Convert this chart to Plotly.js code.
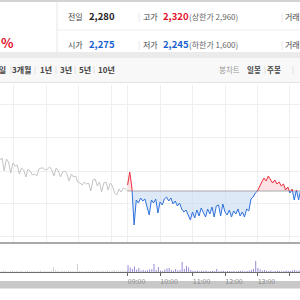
<!DOCTYPE html>
<html><head><meta charset="utf-8">
<script src="https://cdn.plot.ly/plotly-3.0.1.min.js"></script>
<style>html,body{margin:0;padding:0;background:#fff;overflow:hidden}#chart{width:300px;height:300px}</style>
</head><body><div id="chart"></div>
<script>
// ---- data ----
const prevClose = 2280;
const prevStartMinute = 154;   // minutes after previous session 09:00
const todayStartMinute = 390;  // today's 09:00 on the continuous trading-time axis
const stepMinutes = 4;
const prevPrices = [2342,2346,2320,2344,2338,2316,2336,2330,2332,2314,2326,2322,2308,2324,2320,2312,2314,2310,2324,2326,
  2326,2322,2324,2328,2322,2310,2326,2320,2308,2318,2320,2314,2300,2314,2308,2310,2298,2296,2292,2298,
  2294,2296,2280,2302,2304,2290,2298,2278,2296,2298,2282,2296,2290,2276,2272,2284,2278,2286,2284,2280];
const prevVolumes = [12,8,15,10,6,9,14,7,10,8,12,6,9,11,7,10,8,6,9,12,8,10,7,9,11,50,22,9,8,12,
  10,7,14,9,11,8,80,12,10,8,9,14,11,10,8,12,9,15,10,12,18,11,14,20,12,16,10,14,12,18];
const todayPrices = [2292,2318,2286,2212,2262,2256,2266,2260,2264,2248,2232,2262,2256,2264,2236,2258,2252,2264,2268,2260,
  2266,2254,2260,2250,2256,2244,2238,2242,2230,2222,2238,2226,2242,2230,2246,2236,2228,2244,2234,2248,
  2228,2250,2252,2230,2254,2238,2232,2242,2228,2240,2234,2244,2230,2238,2228,2244,2240,2264,2268,2276,
  2280,2290,2298,2306,2300,2310,2304,2296,2302,2294,2298,2290,2294,2282,2288,2276,2284,2262,2282,2262,2282];
const todayVolumes = [70,45,30,55,25,40,15,20,12,18,25,30,80,20,50,15,10,25,35,40,
  20,12,30,15,20,100,30,60,45,20,12,10,15,8,12,10,14,8,10,12,
  9,30,8,10,12,8,10,9,7,11,8,10,9,12,8,10,15,20,30,110,
  40,25,15,20,12,10,14,8,10,12,9,8,10,15,12,10,14,20,12,15,10];
const gridPrices = [2190, 2256, 2320, 2388, 2454];
const gridMinutes = [180, 240, 300, 360, 390, 450, 510, 570, 630, 690];
const timeTickMinutes = [390, 450, 510, 570, 630, 690];
const timeTickLabels = ['09:00', '10:00', '11:00', '12:00', '13:00', '14:00'];

// ---- build ----
const prevX = prevPrices.map((_, i) => prevStartMinute + i * stepMinutes);
const todayX = todayPrices.map((_, i) => todayStartMinute + i * stepMinutes);

// insert baseline crossings so that colours switch exactly at the previous close
const px = [], py = [];
for (let i = 0; i < todayPrices.length; i++) {
  px.push(todayX[i]); py.push(todayPrices[i]);
  if (i < todayPrices.length - 1) {
    const a = todayPrices[i] - prevClose, b = todayPrices[i + 1] - prevClose;
    if (a * b < 0) {
      const t = -a / (b - a);
      px.push(todayX[i] + t * (todayX[i + 1] - todayX[i])); py.push(prevClose);
    }
  }
}
const baseArr = px.map(() => prevClose);
const belowArr = py.map(v => Math.min(v, prevClose));
const aboveArr = py.map(v => Math.max(v, prevClose));
const blueArr = py.map(v => v <= prevClose ? v : null);
const redArr = py.map(v => v >= prevClose ? v : null);

const XR = [154.2, 708.6];
const FONT = '"Noto Sans CJK KR", "Noto Sans", sans-serif';

const traces = [
  {x: px, y: baseArr, type: 'scatter', mode: 'lines', line: {width: 0}, hoverinfo: 'skip'},
  {x: px, y: belowArr, type: 'scatter', mode: 'lines', line: {width: 0}, fill: 'tonexty', fillcolor: 'rgba(200,218,244,0.6)'},
  {x: px, y: baseArr, type: 'scatter', mode: 'lines', line: {width: 0}},
  {x: px, y: aboveArr, type: 'scatter', mode: 'lines', line: {width: 0}, fill: 'tonexty', fillcolor: 'rgba(250,205,212,0.6)'},
  {x: [todayX[0], todayX[todayX.length - 1]], y: [prevClose, prevClose], type: 'scatter', mode: 'lines', line: {color: '#a8a8a8', width: 1}},
  {x: prevX, y: prevPrices, type: 'scatter', mode: 'lines', line: {color: '#c4c4c4', width: 1}},
  {x: px, y: blueArr, type: 'scatter', mode: 'lines', line: {color: '#2f72dc', width: 1}, connectgaps: false},
  {x: px, y: redArr, type: 'scatter', mode: 'lines', line: {color: '#ef2d3c', width: 1}, connectgaps: false},
  {x: prevX, y: prevVolumes, type: 'bar', xaxis: 'x2', yaxis: 'y2', width: 1.6, marker: {color: '#c9c9c9', line: {width: 0}}},
  {x: todayX, y: todayVolumes, type: 'bar', xaxis: 'x2', yaxis: 'y2', width: 1.6, marker: {color: '#8c78cc', line: {width: 0}}}
];

function P(x) { return x / 300; }
function Q(y) { return 1 - y / 300; }
function T(text, x, y, size, color, bold, anchor) {
  return {text: bold ? '<b>' + text + '</b>' : text, x: P(x), y: Q(y), xref: 'paper', yref: 'paper',
    xanchor: anchor || 'left', yanchor: 'middle', showarrow: false, borderpad: 0,
    font: {family: FONT, size: size, color: color}};
}
function R(x0, y0, x1, y1, fill) {
  return {type: 'rect', xref: 'paper', yref: 'paper', x0: P(x0), x1: P(x1), y0: Q(y0), y1: Q(y1),
    fillcolor: fill, line: {width: 0}, layer: 'below'};
}
function L(x0, y0, x1, y1, color, w) {
  return {type: 'line', xref: 'paper', yref: 'paper', x0: P(x0), x1: P(x1), y0: Q(y0), y1: Q(y1),
    line: {color: color, width: w || 1}};
}

const shapes = [
  L(0, 1, 300, 1, '#c4c4c4', 1.5),
  L(57, 2, 57, 52, '#e6e6e6', 1),
  L(57, 30, 300, 30, '#eeeeee', 1),
  R(0, 52, 300, 58, '#ebebeb'),
  R(0, 58, 300, 82, '#f8f8f8'),
  L(0, 82.5, 300, 82.5, '#e2e2e2', 1),
  L(0, 243, 300, 243, '#8c8c8c', 1.3),
  R(0, 281, 300, 288.5, '#c8c8c8')
];

const LBL = 8, VAL = 9.5, SUB = 8, BTN = 8;
const annotations = [
  T('%', 0, 43, 13, '#e0102a', true),
  T('전일', 67, 16, LBL, '#444', false), T('2,280', 88, 16, VAL, '#222', true),
  T('|', 137, 16, 8, '#d8d8d8', false),
  T('고가', 142, 16, LBL, '#444', false), T('2,320', 162, 16, VAL, '#e0102a', true),
  T('(상한가 2,960)', 188, 16, SUB, '#666', false),
  T('|', 280, 16, 8, '#d8d8d8', false), T('거래량', 284, 16, LBL, '#444', false),
  T('시가', 67, 44, LBL, '#444', false), T('2,275', 88, 44, VAL, '#1a5fd0', true),
  T('|', 137, 44, 8, '#d8d8d8', false),
  T('저가', 142, 44, LBL, '#444', false), T('2,245', 162, 44, VAL, '#1a5fd0', true),
  T('(하한가 1,600)', 188, 44, SUB, '#666', false),
  T('|', 280, 44, 8, '#d8d8d8', false), T('거래대금', 284, 44, LBL, '#444', false),
  T('5일', 7, 69, BTN, '#444', true, 'right'),
  T('|', 8.5, 69, 7, '#cccccc', false),
  T('3개월', 11, 69, BTN, '#444', true), T('|', 33, 69, 7, '#cccccc', false),
  T('1년', 39, 69, BTN, '#444', true), T('|', 54, 69, 7, '#cccccc', false),
  T('3년', 59, 69, BTN, '#444', true), T('|', 73, 69, 7, '#cccccc', false),
  T('5년', 78, 69, BTN, '#444', true), T('|', 92, 69, 7, '#cccccc', false),
  T('10년', 97, 69, BTN, '#444', true),
  T('봉차트', 218, 69, 7.5, '#999', false),
  T('일봉', 246, 69, 7.5, '#444', true), T('|', 262.5, 69, 7, '#cccccc', false),
  T('주봉', 266, 69, 7.5, '#444', true), T('|', 291, 69, 7, '#cccccc', false)
];

const layout = {
  width: 300, height: 300, margin: {l: 0, r: 0, t: 0, b: 0},
  paper_bgcolor: '#ffffff', plot_bgcolor: '#ffffff', showlegend: false,
  xaxis: {domain: [0, 1], range: XR, tickvals: gridMinutes, showticklabels: false, ticks: '',
    showgrid: true, gridcolor: '#efefef', gridwidth: 1, zeroline: false, showline: false, anchor: 'y'},
  yaxis: {domain: [Q(243), Q(85)], range: [2176, 2492], tickvals: gridPrices, showticklabels: false, ticks: '',
    showgrid: true, gridcolor: '#efefef', gridwidth: 1, zeroline: false, showline: false},
  xaxis2: {domain: [0, 1], range: XR, anchor: 'y2', tickvals: timeTickMinutes, ticktext: timeTickLabels,
    ticks: 'outside', ticklen: 3, tickcolor: '#666', tickfont: {family: FONT, size: 7, color: '#888'},
    ticklabelshift: 9, ticklabelstandoff: 0,
    showgrid: false, zeroline: false, showline: true, linecolor: '#6e6e6e', linewidth: 1},
  yaxis2: {domain: [Q(272), Q(243)], range: [0, 290], showticklabels: false, ticks: '',
    showgrid: false, zeroline: false, showline: false},
  shapes: shapes, annotations: annotations
};

Plotly.newPlot('chart', traces, layout, {staticPlot: true, displayModeBar: false});
</script></body></html>
